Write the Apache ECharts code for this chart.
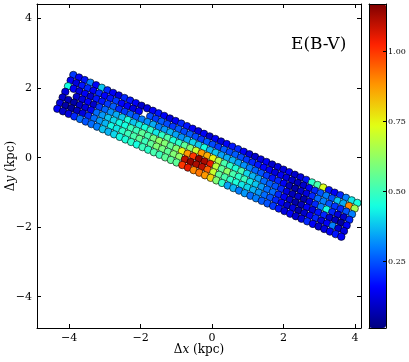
<!DOCTYPE html>
<html>
<head>
<meta charset="utf-8">
<script src="https://cdn.jsdelivr.net/npm/echarts@6/dist/echarts.min.js"></script>
<style>
html, body { margin: 0; padding: 0; background: #fff; }
#chart { width: 409px; height: 362px; }
</style>
</head>
<body>
<div id="chart"></div>
<script>
// E(B-V) of each field, row by row across the strip (row0 = upper edge), 51 fields along it
// null = no field there
var row0 = [0.22,0.15,0.18,0.30,0.15,0.38, 0.20,0.15,0.12,0.20,0.18,0.15,0.10,
	0.12,0.15,0.18,0.15,0.12,0.15,0.20,0.18, 0.15,0.12,0.15,0.10,0.15,0.12,0.15,0.18,
	0.20,0.15,0.12,0.10,0.12,0.15,0.10,0.12, 0.12,0.15,0.10,0.12,0.18,0.48,0.52,0.72,0.18,0.15,0.20,0.30,0.42,0.45];
var row1 = [0.15,0.12,0.18,0.20,0.15,0.20, 0.15,0.18,0.22,0.16,0.15,0.12,0.15,
	null,0.24,0.22,0.26,0.24,0.22,0.26,0.24, 0.26,0.24,0.22,0.26,0.24,0.22,0.26,0.24,
	0.26,0.24,0.22,0.20,0.18,0.16,0.15,0.12, 0.15,0.12,0.10,0.08,0.10,0.15,0.20,0.25,0.30,0.25,0.38,0.35,0.90,0.65];
var row2 = [0.45,0.15,0.12,0.15,0.10,0.18, 0.18,0.22,0.26,0.20,0.22,0.26,0.25,
	0.30,0.32,0.35,0.30,0.33,0.36,0.34,0.32, 0.35,0.40,0.38,0.45,0.36,0.38,0.34,0.35,
	0.36,0.34,0.32,0.30,0.27,0.25,0.22,0.18, 0.20,0.15,0.08,0.06,0.10,0.12,0.20,0.28,0.30,0.25,0.22,0.20,0.25,0.30];
var row3 = [0.12,null,0.10,0.12,0.15,0.10, 0.22,0.27,0.32,0.35,0.38,0.46,0.38,
	0.42,0.45,0.48,0.42,0.48,0.53,0.46,0.48, 0.55,0.60,0.70,0.88,0.85,0.75,0.66,0.52,
	0.48,0.46,0.52,0.40,0.36,0.34,0.28,0.26, 0.25,0.20,0.12,0.08,0.10,0.06,0.12,0.20,0.30,0.45,0.20,0.12,0.10,0.20];
var row4 = [0.10,0.08,0.06,0.10,0.12,0.15, 0.28,0.33,0.38,0.40,0.44,0.45,0.50,
	0.50,0.55,0.52,0.58,0.62,0.60,0.55,0.60, 0.75,0.88,1.00,1.15,1.12,1.05,0.68,0.55,
	0.62,0.52,0.48,0.50,0.42,0.38,0.33,0.28, 0.28,0.20,0.15,0.10,0.06,0.08,0.15,0.12,0.18,0.20,0.10,0.08,0.05,0.15];
var row5 = [0.12,0.06,0.05,0.08,0.12,0.20, 0.28,0.33,0.36,0.44,0.42,0.48,0.50,
	0.52,0.55,0.50,0.55,0.60,0.58,0.55,0.60, 0.62,1.10,1.15,1.12,1.10,0.95,0.70,0.55,
	0.52,0.48,0.46,0.42,0.40,0.36,0.33,0.28, 0.25,0.20,0.15,0.10,0.12,0.06,0.10,0.15,0.20,0.12,0.15,0.30,0.10,0.12];
var row6 = [0.15,0.10,0.12,0.20,0.28,0.25, 0.28,0.30,0.38,0.36,0.40,0.44,0.46,
	0.48,0.45,0.50,0.48,0.52,0.50,0.55,0.55, 0.55,1.00,1.05,0.90,0.92,0.88,0.80,0.60,
	0.48,0.34,0.36,0.30,0.33,0.28,0.30,0.26, 0.25,0.22,0.18,0.12,0.15,0.10,0.12,0.20,0.15,0.10,0.12,0.15,0.18,0.15];

// field grid: first field (upper-left corner) and the steps between fields, in kpc
var firstX = -3.883, firstY = 2.378;
var alongX = 0.159, alongY = -0.0736;
var acrossX = -0.0747, acrossY = -0.1618;

var xTicks = [-4, -2, 0, 2, 4];
var yTicks = [-4, -2, 0, 2, 4];
var cbTicks = [0.25, 0.50, 0.75, 1.00];
var ebvMin = 0.013, ebvMax = 1.17;

var jet = ['#000080','#0000ff','#0080ff','#14ffe2','#7bff7b','#e2ff14','#ff9700','#ff2100','#800000'];
var serif = 'DejaVu Serif';

function buildPoints(){
	var rows = [row0, row1, row2, row3, row4, row5, row6];
	var pts = [];
	for(var r=0; r<rows.length; r++){
		for(var c=0; c<rows[r].length; c++){
			if(rows[r][c] === null) continue;
			pts.push([firstX + c*alongX + r*acrossX, firstY + c*alongY + r*acrossY, rows[r][c]]);
		}
	}
	return pts;
}

function minus(v){
	return v < 0 ? '\u2212' + Math.abs(v) : String(v);
}

function ticks(values){
	return {show: true, inside: true, length: 4, customValues: values, lineStyle: {color: '#000', width: 1}};
}

var frame = {show: true, onZero: false, lineStyle: {color: '#000', width: 1}};

var nameRich = {
	n: {fontFamily: serif, fontSize: 12, color: '#000'},
	i: {fontFamily: serif, fontSize: 12, fontStyle: 'italic', color: '#000'}
};

var chart = echarts.init(document.getElementById('chart'));

var option = {
	animation: false,
	backgroundColor: '#fff',
	title: {
		text: 'E(B-V)',
		left: 286,
		top: 31,
		textStyle: {fontFamily: serif, fontSize: 17, fontWeight: 'normal', color: '#000'}
	},
	grid: [
		{left: 37, right: 48, top: 4, bottom: 34, outerBoundsMode: 'none', containLabel: false},
		{left: 369, right: 23, top: 4, bottom: 34, outerBoundsMode: 'none', containLabel: false}
	],
	visualMap: {
		type: 'continuous',
		min: ebvMin,
		max: ebvMax,
		dimension: 2,
		seriesIndex: 0,
		calculable: false,
		hoverLink: false,
		left: 369,
		top: 4,
		padding: 0,
		itemWidth: 17,
		itemHeight: 324,
		text: null,
		showLabel: false,
		z: 1,
		inRange: {color: jet}
	},
	xAxis: [
		{
			gridIndex: 0, type: 'value', min: -4.9, max: 4.17, z: 3,
			name: '{n|\u0394}{i|x}{n| (kpc)}', nameLocation: 'middle', nameGap: 16, nameMoveOverlap: false,
			nameTextStyle: {rich: nameRich},
			axisLine: frame,
			splitLine: {show: false},
			axisTick: ticks(xTicks),
			axisLabel: {customValues: xTicks, formatter: minus, fontFamily: serif, fontSize: 11, color: '#000', margin: 5}
		},
		{
			gridIndex: 0, type: 'value', position: 'top', min: -4.9, max: 4.17, z: 3,
			axisLine: frame, splitLine: {show: false},
			axisTick: ticks(xTicks),
			axisLabel: {show: false}
		},
		{
			gridIndex: 1, type: 'value', min: 0, max: 1, z: 3,
			axisLine: frame,
			axisTick: {show: false}, axisLabel: {show: false}, splitLine: {show: false}
		},
		{
			gridIndex: 1, type: 'value', position: 'top', min: 0, max: 1, z: 3,
			axisLine: frame,
			axisTick: {show: false}, axisLabel: {show: false}, splitLine: {show: false}
		}
	],
	yAxis: [
		{
			gridIndex: 0, type: 'value', min: -4.9, max: 4.42, z: 3,
			name: '{n|\u0394}{i|y}{n| (kpc)}', nameLocation: 'middle', nameGap: 20, nameRotate: 90, nameMoveOverlap: false,
			nameTextStyle: {rich: nameRich},
			axisLine: frame,
			splitLine: {show: false},
			axisTick: ticks(yTicks),
			axisLabel: {customValues: yTicks, formatter: minus, fontFamily: serif, fontSize: 11, color: '#000', margin: 5}
		},
		{
			gridIndex: 0, type: 'value', position: 'right', min: -4.9, max: 4.42, z: 3,
			axisLine: frame, splitLine: {show: false},
			axisTick: ticks(yTicks),
			axisLabel: {show: false}
		},
		{
			gridIndex: 1, type: 'value', position: 'right', min: ebvMin, max: ebvMax, z: 3,
			axisLine: frame,
			splitLine: {show: false},
			axisTick: {show: true, inside: true, length: 3, customValues: cbTicks, lineStyle: {color: '#000'}},
			axisLabel: {customValues: cbTicks, formatter: function(v){ return v.toFixed(2); },
				fontFamily: serif, fontSize: 8, color: '#000', margin: 2}
		},
		{
			gridIndex: 1, type: 'value', position: 'left', min: ebvMin, max: ebvMax, z: 3,
			axisLine: frame,
			axisTick: {show: false}, axisLabel: {show: false}, splitLine: {show: false}
		}
	],
	series: [
		{
			type: 'scatter',
			xAxisIndex: 0,
			yAxisIndex: 0,
			symbol: 'circle',
			symbolSize: 7.5,
			itemStyle: {borderColor: '#000', borderWidth: 0.6, opacity: 1},
			data: buildPoints()
		}
	]
};

chart.setOption(option);
</script>
</body>
</html>
